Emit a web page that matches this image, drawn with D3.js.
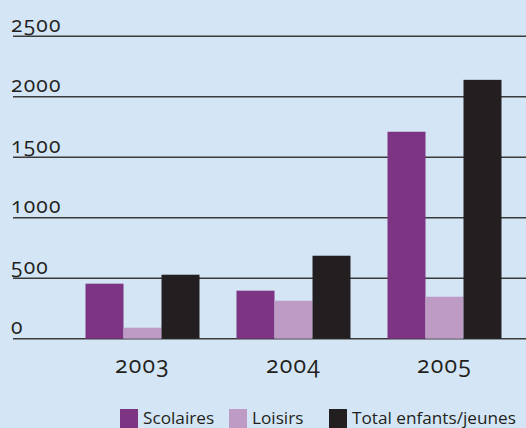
<!DOCTYPE html>
<html>
<head>
<meta charset="utf-8">
<script src="https://cdn.jsdelivr.net/npm/d3@7"></script>
<style>
  body { margin: 0; background: #d4e6f5; }
  svg { display: block; }
  text { font-family: "Open Sans", sans-serif; fill: #231f20; }
</style>
</head>
<body>
<div id="chart"></div>
<script>
var width = 526, height = 428;

// data
var years = ["2003", "2004", "2005"];
var series = ["Scolaires", "Loisirs", "Total enfants/jeunes"];
var scolaires = [455, 397, 1711];
var loisirs = [91, 314, 347];
var total = [529, 686, 2140];
var yTicks = [0, 500, 1000, 1500, 2000, 2500];
var colors = ["#7d3583", "#bd9bc4", "#231f20"];

var values = [scolaires, loisirs, total];

var x0 = d3.scaleBand()
  .domain(years)
  .range([85.5, 501.5])
  .paddingInner(0.245)
  .paddingOuter(0);

var x1 = d3.scaleBand()
  .domain(series)
  .range([0, x0.bandwidth()]);

var y = d3.scaleLinear()
  .domain([0, 2500])
  .range([338.7, 36.3]);

var color = d3.scaleOrdinal().domain(series).range(colors);

var svg = d3.select("#chart").append("svg")
  .attr("width", width)
  .attr("height", height);

svg.append("rect").attr("width", width).attr("height", height).attr("fill", "#d4e6f5");

// grid lines + labels
var grid = svg.append("g");
grid.selectAll("line")
  .data(yTicks)
  .join("line")
    .attr("x1", 13)
    .attr("x2", width)
    .attr("y1", d => y(d))
    .attr("y2", d => y(d))
    .attr("stroke", "#3a3a3a")
    .attr("stroke-width", 1.6);

grid.selectAll("text")
  .data(yTicks)
  .join("text")
    .attr("x", 11)
    .attr("y", d => y(d) - 4.5)
    .attr("font-size", 21)
    .attr("font-weight", 500)
    .attr("letter-spacing", 1.2)
    .style("font-variant-numeric", "oldstyle-nums")
    .text(d => d);

// bars
var groups = svg.append("g").selectAll("g")
  .data(years)
  .join("g")
    .attr("transform", d => `translate(${x0(d)},0)`);

groups.selectAll("rect")
  .data((d, i) => series.map((s, j) => ({key: s, value: values[j][i]})))
  .join("rect")
    .attr("x", d => x1(d.key))
    .attr("width", x1.bandwidth())
    .attr("y", d => y(d.value))
    .attr("height", d => y(0) - y(d.value))
    .attr("fill", d => color(d.key));

// x labels
svg.append("g").selectAll("text")
  .data(years)
  .join("text")
    .attr("x", d => x0(d) + x0.bandwidth() / 2)
    .attr("y", 373)
    .attr("text-anchor", "middle")
    .attr("font-size", 23)
    .attr("font-weight", 500)
    .attr("letter-spacing", 1.2)
    .style("font-variant-numeric", "oldstyle-nums")
    .text(d => d);

// legend
var legendX = [120, 229, 329];
var legend = svg.append("g").selectAll("g")
  .data(series)
  .join("g")
    .attr("transform", (d, i) => `translate(${legendX[i]},409)`);

legend.append("rect")
  .attr("width", 18)
  .attr("height", 19)
  .attr("fill", d => color(d));

legend.append("text")
  .attr("x", 23)
  .attr("y", 14.5)
  .attr("font-size", 17.2)
  .text(d => d);
</script>
</body>
</html>
